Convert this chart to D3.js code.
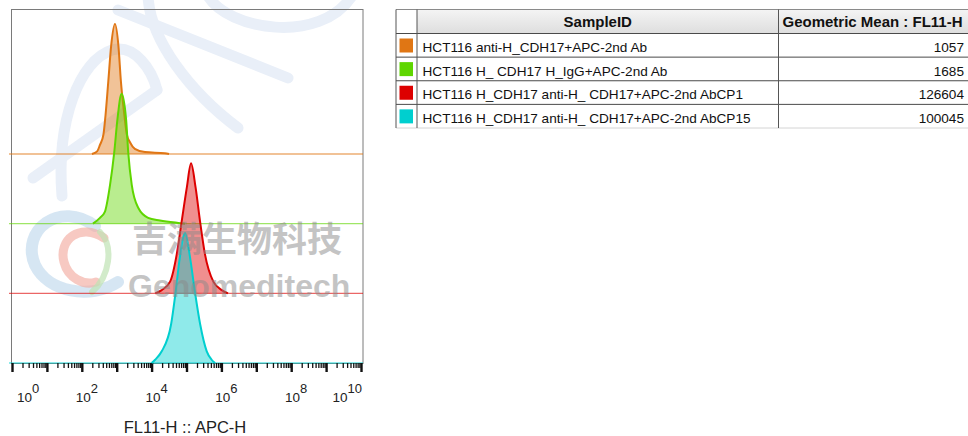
<!DOCTYPE html>
<html>
<head>
<meta charset="utf-8">
<script src="https://cdn.jsdelivr.net/npm/d3@7"></script>
<style>
  body { margin: 0; background: #fff; }
  svg { display: block; font-family: "Liberation Sans", Arial, sans-serif; }
</style>
</head>
<body>
<div id="chart"></div>
<script>
// samples, as listed in the table
var sampleIds = [
    'HCT116 anti-H_CDH17+APC-2nd Ab',
    'HCT116 H_ CDH17 H_IgG+APC-2nd Ab',
    'HCT116 H_CDH17 anti-H_ CDH17+APC-2nd AbCP1',
    'HCT116 H_CDH17 anti-H_ CDH17+APC-2nd AbCP15'
];
var geoMeans = [1057, 1685, 126604, 100045];
var sampleColors = ['#e07614', '#5fd600', '#dd0000', '#00cfcf'];

// histogram outlines: [FL11-H value, count / mode]
var histAntiCdh17 = [
    [195, 0], [275, 0.02], [331, 0.07], [417, 0.15], [479, 0.30], [575, 0.56], [692, 0.83],
    [891, 1.0], [1122, 0.83], [1318, 0.56], [1660, 0.30], [1950, 0.15], [2399, 0.09],
    [3311, 0.04], [6457, 0.015], [23990, 0.006], [31620, 0]
];
var histIgG = [
    [209, 0], [331, 0.045], [457, 0.09], [646, 0.30], [851, 0.55], [1047, 0.80],
    [1380, 1.0], [1862, 0.80], [2138, 0.55], [2692, 0.30], [4169, 0.12], [7943, 0.045],
    [17380, 0.025], [57540, 0.006], [91200, 0]
];
var histCP1 = [
    [12590, 0], [19500, 0.025], [33880, 0.09], [52480, 0.30], [72440, 0.55], [102300, 0.815],
    [134900, 1.0], [182000, 0.815], [245500, 0.55], [338800, 0.30], [588800, 0.09],
    [1023000, 0.025], [1549000, 0]
];
var histCP15 = [
    [10000, 0], [12590, 0.025], [19500, 0.09], [36310, 0.30], [48980, 0.55], [64570, 0.815],
    [91200, 1.0], [125900, 0.815], [173800, 0.55], [245500, 0.30], [380200, 0.09],
    [524800, 0.025], [660700, 0]
];
var histograms = [histAntiCdh17, histIgG, histCP1, histCP15];

var tickExponents = [0, 2, 4, 6, 8, 10];
var axisTitle = 'FL11-H :: APC-H';
var tableHeaders = ['SampleID', 'Geometric Mean : FL11-H'];

var width = 968, height = 436;

var svg = d3.select('#chart').append('svg')
    .attr('width', width)
    .attr('height', height);

svg.append('rect').attr('width', width).attr('height', height).attr('fill', '#fff');

var x = d3.scaleLog().domain([1, 1e10]).range([12, 361]);
var lane = d3.scalePoint().domain(sampleIds).range([154, 363]);
var peak = d3.scaleLinear().domain([0, 1]).range([0, 130]);

// watermark strokes behind the plot
var wm = svg.append('g')
    .attr('fill', 'none')
    .attr('stroke', '#e9eff8')
    .attr('stroke-width', 11)
    .attr('stroke-linecap', 'round');
wm.append('path').attr('d', 'M118,10 L288,78');
wm.append('path').attr('d', 'M148,-4 C150,40 190,92 238,128');
wm.append('path').attr('d', 'M208,-4 C228,30 320,45 352,-4');
wm.append('path').attr('d', 'M62,196 C56,120 80,60 112,50 C135,44 152,70 157,90');
wm.append('path').attr('d', 'M33,178 L157,90');

var logo = svg.append('g').attr('fill', 'none').attr('stroke-linecap', 'round');
logo.append('path').attr('d', 'M95,226 C60,200 20,230 35,265 C48,292 90,300 118,282')
    .attr('stroke', '#c4dcee').attr('stroke-width', 12).attr('opacity', 0.7);
logo.append('path').attr('d', 'M104,238 C80,222 58,240 64,262 C68,278 84,286 96,282')
    .attr('stroke', '#f2aca2').attr('stroke-width', 9).attr('opacity', 0.65);
logo.append('path').attr('d', 'M100,232 C114,246 110,276 92,292')
    .attr('stroke', '#bfe2b4').attr('stroke-width', 6).attr('opacity', 0.7);

// frame
svg.append('rect')
    .attr('x', 11.5).attr('y', 9.5)
    .attr('width', 351.5).attr('height', 354)
    .attr('fill', 'none')
    .attr('stroke', '#7a7a7a');

// baselines
svg.selectAll('line.baseline')
    .data(sampleIds)
    .enter()
    .append('line')
    .attr('class', 'baseline')
    .attr('x1', 9).attr('x2', 363)
    .attr('y1', d => lane(d)).attr('y2', d => lane(d))
    .attr('stroke', (d, i) => sampleColors[i])
    .attr('stroke-opacity', 0.6)
    .attr('stroke-width', 1.3);

// axis ticks
var minorTicks = [];
d3.range(0, 10).forEach(e => d3.range(2, 10).forEach(k => minorTicks.push(k * Math.pow(10, e))));
var majorTicks = d3.range(0, 11).map(e => Math.pow(10, e));

var minorAxis = svg.append('g')
    .attr('transform', 'translate(0,363)')
    .call(d3.axisBottom(x).tickValues(minorTicks).tickSize(5).tickFormat(''));
minorAxis.select('.domain').remove();
minorAxis.selectAll('.tick line').attr('stroke', '#111').attr('stroke-width', 1.3);

var majorAxis = svg.append('g')
    .attr('transform', 'translate(0,363)')
    .call(d3.axisBottom(x).tickValues(majorTicks).tickSize(9).tickFormat(''));
majorAxis.select('.domain').remove();
majorAxis.selectAll('.tick line').attr('stroke', '#111').attr('stroke-width', 2.4);

// histograms
histograms.forEach((hist, i) => {
    var base = lane(sampleIds[i]);
    var area = d3.area()
        .x(d => x(d[0]))
        .y0(base)
        .y1(d => base - peak(d[1]))
        .curve(d3.curveMonotoneX);
    var line = d3.line()
        .x(d => x(d[0]))
        .y(d => base - peak(d[1]))
        .curve(d3.curveMonotoneX);
    svg.append('path')
        .datum(hist)
        .attr('d', area)
        .attr('fill', sampleColors[i])
        .attr('fill-opacity', 0.44);
    svg.append('path')
        .datum(hist)
        .attr('d', line)
        .attr('fill', 'none')
        .attr('stroke', sampleColors[i])
        .attr('stroke-width', 2);
});

// tick labels 10^n
var labels = svg.selectAll('text.tickLabel')
    .data(tickExponents)
    .enter()
    .append('text')
    .attr('class', 'tickLabel')
    .attr('x', d => x(Math.pow(10, d)) + 5)
    .attr('y', 402)
    .attr('text-anchor', 'middle')
    .attr('fill', '#222')
    .style('font-size', '13.5px');
labels.append('tspan').text('10');
labels.append('tspan').attr('dy', -9).style('font-size', '13px').text(d => d);
labels.each(function () {
    var b = this.getBBox();
    var cx = +d3.select(this).attr('x');
    if (b.x < 17) d3.select(this).attr('x', cx + (17 - b.x));
    if (b.x + b.width > 362) d3.select(this).attr('x', cx - (b.x + b.width - 362));
});

svg.append('text')
    .attr('x', 185).attr('y', 433)
    .attr('text-anchor', 'middle')
    .attr('fill', '#222')
    .style('font-size', '16.5px')
    .text(axisTitle);

// watermark text on top
svg.append('text')
    .attr('x', 132).attr('y', 252)
    .attr('fill', '#8a8a8a').attr('fill-opacity', 0.5)
    .style('font-family', '"Noto Sans CJK SC", sans-serif')
    .style('font-weight', 'bold')
    .style('font-size', '35px')
    .text('吉满生物科技');
svg.append('text')
    .attr('x', 128).attr('y', 297)
    .attr('fill', '#8a8a8a').attr('fill-opacity', 0.5)
    .style('font-weight', 'bold')
    .style('font-size', '32px')
    .text('Genomeditech');

// table
var tLeft = 396, tSwatch = 417, tMid = 778.5, tRight = 975;
var headTop = 9.5, headBottom = 33.5;
var row = d3.scaleBand().domain(sampleIds).range([headBottom, 128]);

var grad = svg.append('defs').append('linearGradient')
    .attr('id', 'headGrad').attr('x1', 0).attr('y1', 0).attr('x2', 0).attr('y2', 1);
grad.append('stop').attr('offset', '0%').attr('stop-color', '#f4f4f4');
grad.append('stop').attr('offset', '100%').attr('stop-color', '#dedede');

var table = svg.append('g');
table.append('rect')
    .attr('x', tSwatch).attr('y', headTop)
    .attr('width', tRight - tSwatch).attr('height', headBottom - headTop)
    .attr('fill', 'url(#headGrad)');

table.selectAll('line.rowLine')
    .data([headTop, headBottom].concat(sampleIds.slice(1).map(d => row(d))))
    .enter()
    .append('line')
    .attr('class', 'rowLine')
    .attr('x1', tLeft).attr('x2', tRight)
    .attr('y1', d => d).attr('y2', d => d)
    .attr('stroke', (d, i) => i == 0 ? '#8a8a8a' : '#4a4a4a')
    .attr('stroke-width', 1);
table.append('line')
    .attr('x1', tLeft).attr('x2', tRight)
    .attr('y1', 128).attr('y2', 128)
    .attr('stroke', '#d4d4d4');

table.selectAll('line.colLine')
    .data([tLeft, tSwatch, tMid])
    .enter()
    .append('line')
    .attr('class', 'colLine')
    .attr('x1', d => d).attr('x2', d => d)
    .attr('y1', headTop).attr('y2', 128)
    .attr('stroke', '#555');

table.append('text')
    .attr('x', (tSwatch + tMid) / 2).attr('y', 27)
    .attr('text-anchor', 'middle')
    .attr('fill', '#111')
    .style('font-weight', 'bold').style('font-size', '15px')
    .text(tableHeaders[0]);
table.append('text')
    .attr('x', 782.5).attr('y', 27)
    .attr('fill', '#111')
    .style('font-weight', 'bold').style('font-size', '15px')
    .text(tableHeaders[1]);

table.selectAll('rect.swatch')
    .data(sampleIds)
    .enter()
    .append('rect')
    .attr('class', 'swatch')
    .attr('x', 399.5)
    .attr('y', d => row(d) + 5)
    .attr('width', 13.5).attr('height', 14)
    .attr('fill', (d, i) => sampleColors[i]);

table.selectAll('text.sampleName')
    .data(sampleIds)
    .enter()
    .append('text')
    .attr('class', 'sampleName')
    .attr('x', 422.5)
    .attr('y', d => row(d) + 18.5)
    .attr('fill', '#111')
    .style('font-size', '13.6px')
    .text(d => d);

table.selectAll('text.geoMean')
    .data(sampleIds)
    .enter()
    .append('text')
    .attr('class', 'geoMean')
    .attr('x', 964)
    .attr('y', d => row(d) + 18.5)
    .attr('text-anchor', 'end')
    .attr('fill', '#111')
    .style('font-size', '13.6px')
    .text((d, i) => geoMeans[i]);
</script>
</body>
</html>
